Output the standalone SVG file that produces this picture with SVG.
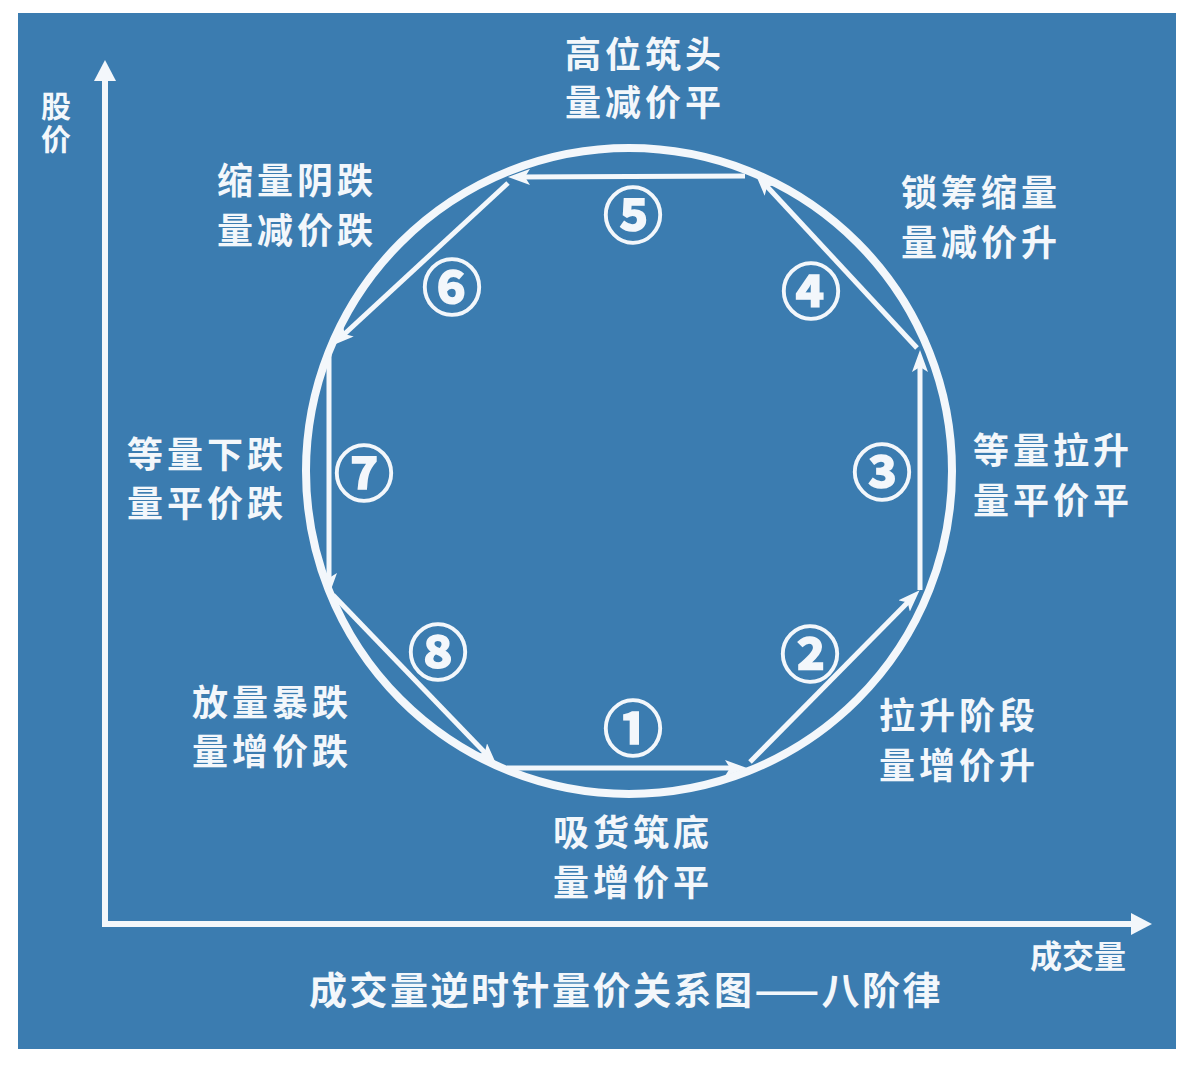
<svg xmlns="http://www.w3.org/2000/svg" width="1194" height="1068" viewBox="0 0 1194 1068">
  <defs>
    <style>
      .lbl { font-family: "Noto Sans CJK SC", "Noto Sans", sans-serif; font-size: 36px; font-weight: bold; fill: #f3f7fb; letter-spacing: 4px; text-anchor: middle; }
      .num { font-family: "Noto Sans CJK SC", "DejaVu Sans", sans-serif; font-size: 60px; font-weight: bold; fill: #f3f7fb; stroke: #f3f7fb; stroke-width: 1.6px; text-anchor: middle; }
      .axis-lbl { font-family: "Noto Sans CJK SC", sans-serif; font-size: 32px; font-weight: bold; fill: #f3f7fb; text-anchor: middle; }
      .axis-v { font-family: "Noto Sans CJK SC", sans-serif; font-size: 30px; font-weight: bold; fill: #f3f7fb; writing-mode: vertical-rl; letter-spacing: 3px; }
      .title { font-family: "Noto Sans CJK SC", sans-serif; font-size: 38px; font-weight: bold; fill: #f3f7fb; letter-spacing: 2.5px; text-anchor: middle; }
      .seg { stroke: #f3f7fb; stroke-width: 5; fill: none; marker-end: url(#ah); }
      .axis { stroke: #f3f7fb; stroke-width: 6; fill: none; }
    </style>
    <marker id="ah" viewBox="0 0 22 16" refX="14" refY="8" markerWidth="22" markerHeight="16" markerUnits="userSpaceOnUse" orient="auto">
      <path d="M0,0 L22,8 L0,16 L5,8 Z" fill="#f3f7fb"/>
    </marker>
  </defs>
  <rect x="0" y="0" width="1194" height="1068" fill="#ffffff"/>
  <rect x="18" y="13" width="1158" height="1036" fill="#3b7cb0"/>

  <g id="axes">
    <path class="axis" d="M105,78 L105,924 L1134,924"/>
    <path d="M105,60 L116,81 L94,81 Z" fill="#f3f7fb"/>
    <path d="M1152,924 L1131,913 L1131,935 Z" fill="#f3f7fb"/>
    <text class="axis-v" x="56" y="91">股价</text>
    <text class="axis-lbl" x="1078" y="968">成交量</text>
  </g>

  <g id="cycle">
    <circle cx="629" cy="471" r="323" fill="none" stroke="#f3f7fb" stroke-width="8"/>
  </g>

  <g id="connectors">
    <line class="seg" x1="507" y1="768" x2="739" y2="768"/>
    <line class="seg" x1="750" y1="762" x2="914" y2="596"/>
    <line class="seg" x1="920" y1="590" x2="920" y2="358"/>
    <line class="seg" x1="917" y1="348" x2="761" y2="180"/>
    <line class="seg" x1="745" y1="176" x2="516" y2="177"/>
    <line class="seg" x1="508" y1="183" x2="338" y2="340"/>
    <line class="seg" x1="329" y1="355" x2="329" y2="587"/>
    <line class="seg" x1="333" y1="595" x2="491" y2="759"/>
  </g>

  <g id="phase1">
    <text class="num" x="633" y="751">①</text>
    <text class="lbl" x="633" y="846">吸货筑底</text>
    <text class="lbl" x="633" y="896">量增价平</text>
  </g>
  <g id="phase2">
    <text class="num" x="810" y="677">②</text>
    <text class="lbl" x="959" y="729">拉升阶段</text>
    <text class="lbl" x="959" y="779">量增价升</text>
  </g>
  <g id="phase3">
    <text class="num" x="882" y="495">③</text>
    <text class="lbl" x="1053" y="464">等量拉升</text>
    <text class="lbl" x="1053" y="514">量平价平</text>
  </g>
  <g id="phase4">
    <text class="num" x="811" y="314">④</text>
    <text class="lbl" x="981" y="206">锁筹缩量</text>
    <text class="lbl" x="981" y="256">量减价升</text>
  </g>
  <g id="phase5">
    <text class="num" x="633" y="238">⑤</text>
    <text class="lbl" x="645" y="68">高位筑头</text>
    <text class="lbl" x="645" y="116">量减价平</text>
  </g>
  <g id="phase6">
    <text class="num" x="452" y="310">⑥</text>
    <text class="lbl" x="297" y="194">缩量阴跌</text>
    <text class="lbl" x="297" y="244">量减价跌</text>
  </g>
  <g id="phase7">
    <text class="num" x="364" y="496">⑦</text>
    <text class="lbl" x="207" y="468">等量下跌</text>
    <text class="lbl" x="207" y="517">量平价跌</text>
  </g>
  <g id="phase8">
    <text class="num" x="438" y="675">⑧</text>
    <text class="lbl" x="272" y="716">放量暴跌</text>
    <text class="lbl" x="272" y="765">量增价跌</text>
  </g>

  <g id="title">
    <text class="title" x="626" y="1004">成交量逆时针量价关系图——八阶律</text>
  </g>
</svg>
